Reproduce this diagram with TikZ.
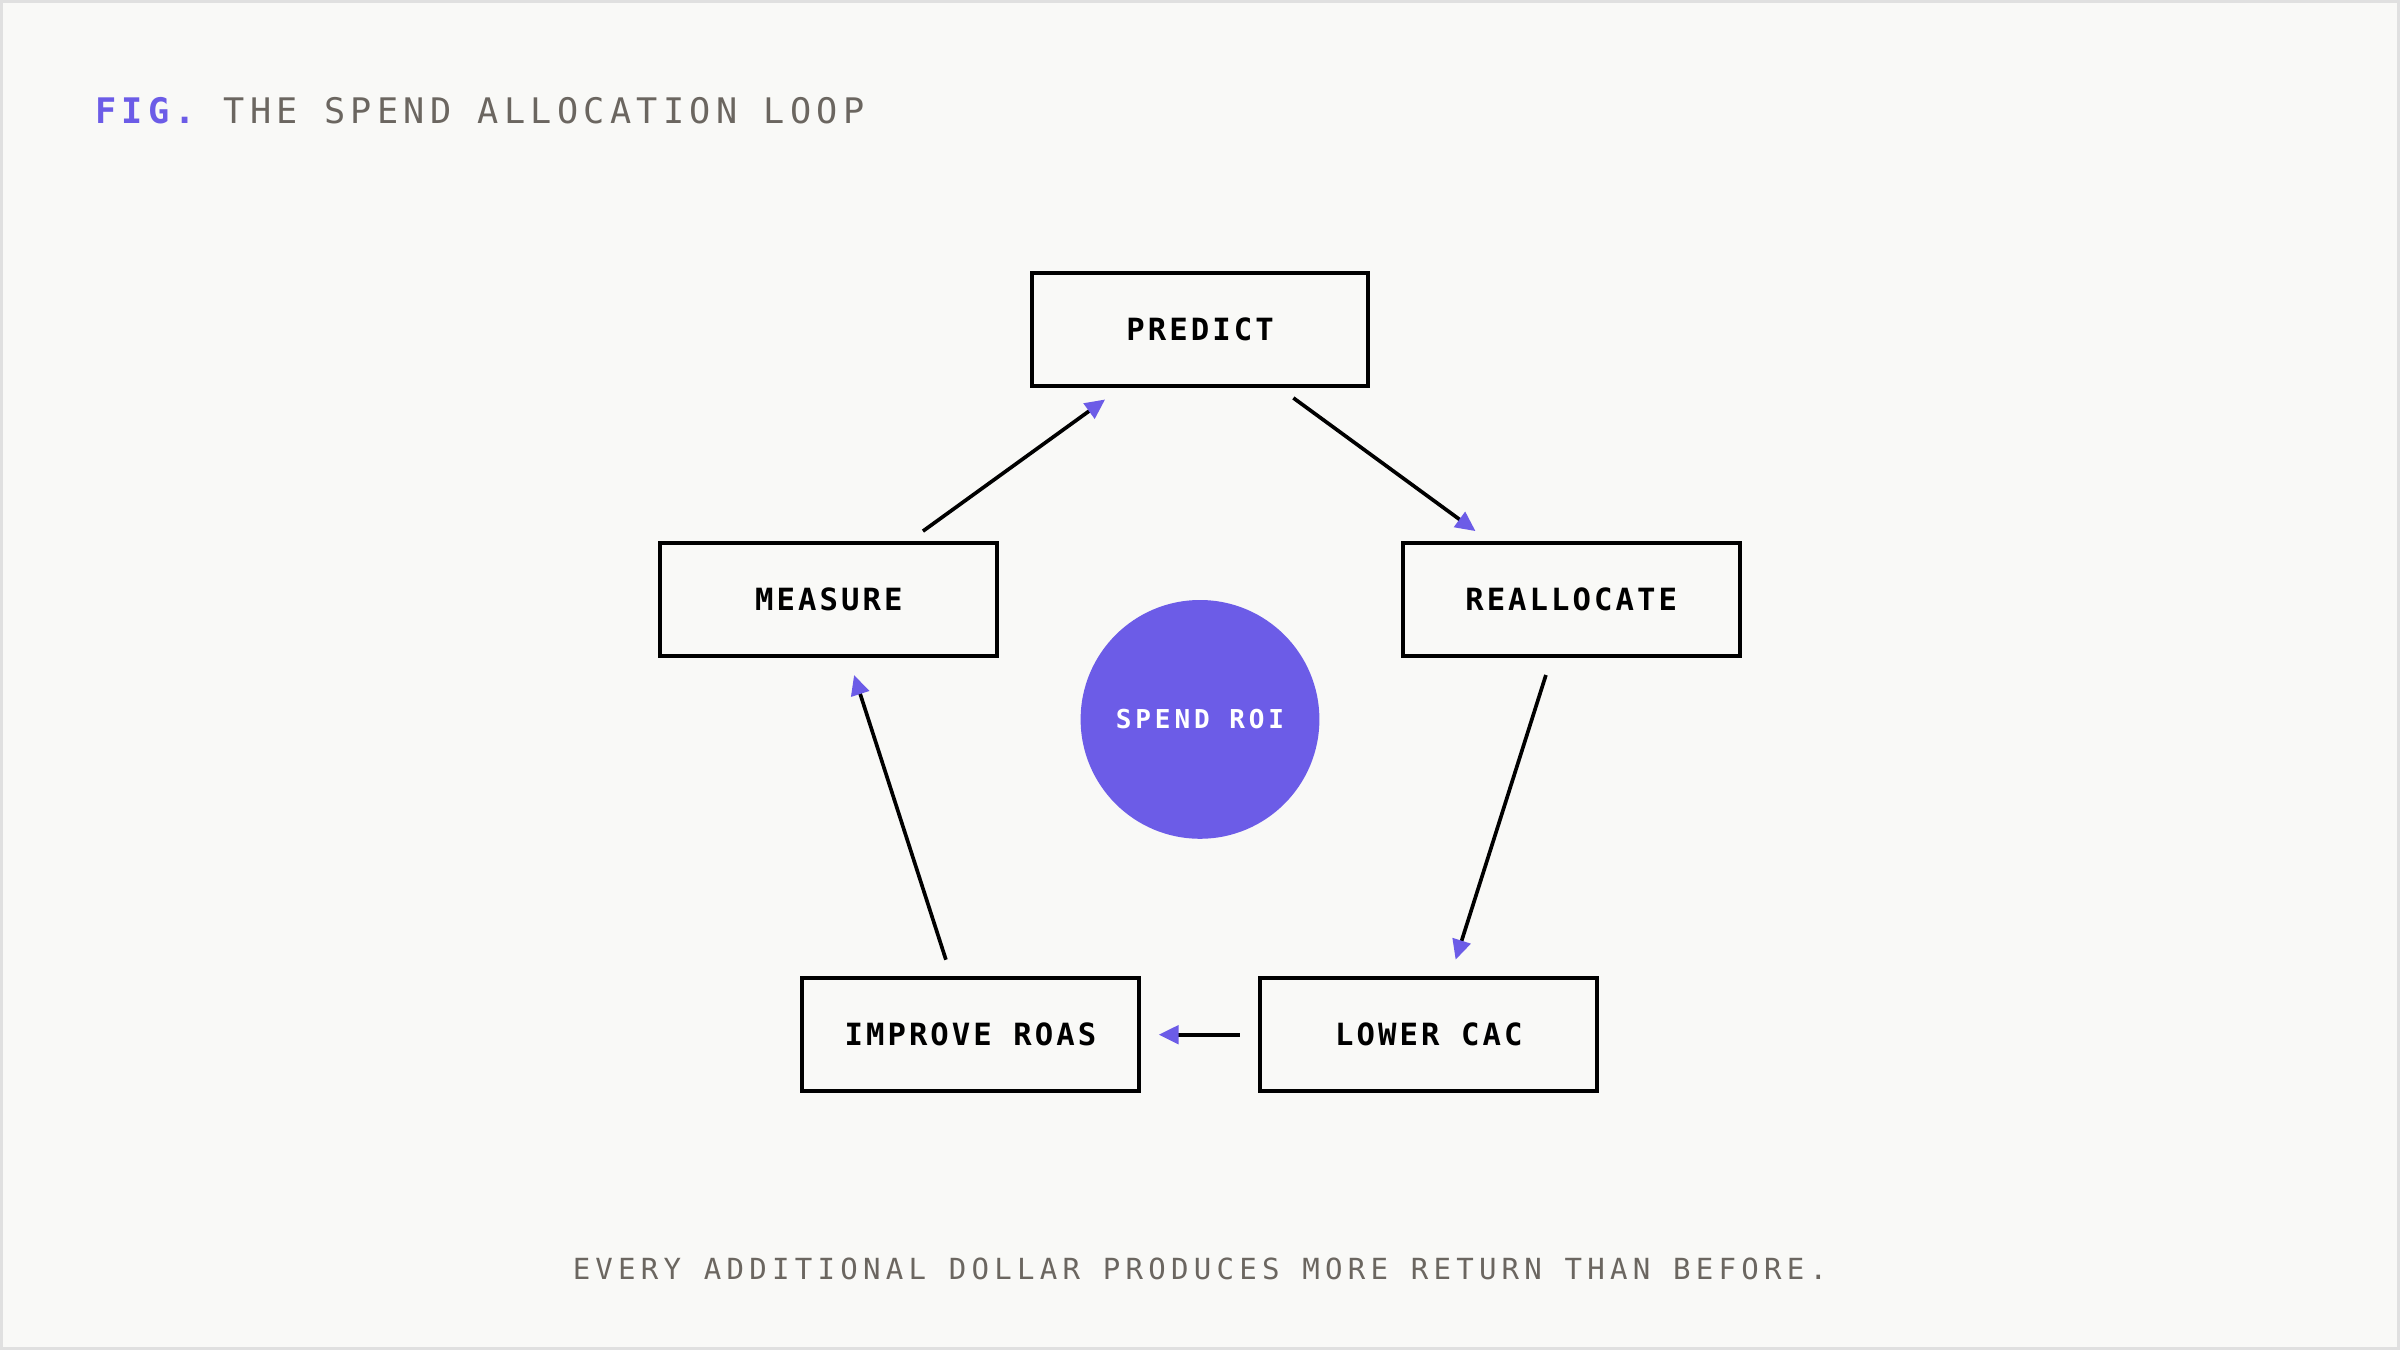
\documentclass[tikz,border=0pt]{standalone}
\usepackage{fontspec}
\setmonofont{DejaVu Sans Mono}
\newfontfamily\titlef[LetterSpace=15]{DejaVu Sans Mono}
\newfontfamily\boxf[LetterSpace=10]{DejaVu Sans Mono Bold}
\newfontfamily\footf[LetterSpace=18]{DejaVu Sans Mono}
\newfontfamily\circf[LetterSpace=15]{DejaVu Sans Mono Bold}
\usetikzlibrary{arrows.meta}
\definecolor{bg}{HTML}{F9F9F7}
\definecolor{purp}{HTML}{6C5CE7}
\definecolor{gry}{HTML}{6B6660}
\begin{document}
\begin{tikzpicture}[x=1pt,y=-1pt,
  stepbox/.style={draw=black,line width=2.6pt,fill=bg,minimum width=220pt,minimum height=74pt,inner sep=0pt,font=\boxf\fontsize{20}{24}\selectfont},
  flow/.style={line width=2.4pt,draw=black,-{Triangle[length=13pt,width=12pt,color=purp,fill=purp]}}]
\fill[bg] (0,0) rectangle (1568,882);
\draw[line width=2pt,draw=black!12] (1,1) rectangle (1567,881);
\node[anchor=west,inner sep=0pt,text=purp,font=\titlef\bfseries\fontsize{23}{28}\selectfont] (fig) at (62,72) {FIG.};
\node[anchor=west,inner sep=0pt,text=gry,font=\titlef\fontsize{23}{28}\selectfont] (title) at (146,72) {THE SPEND ALLOCATION LOOP};
\node[stepbox] (pred) at (784,215.5) {PREDICT};
\node[stepbox] (meas) at (541.5,391.5) {MEASURE};
\node[stepbox] (real) at (1026.5,391.5) {REALLOCATE};
\node[stepbox] (impr) at (634,676) {IMPROVE ROAS};
\node[stepbox] (lowc) at (933.5,676) {LOWER CAC};
\node[circle,fill=purp,minimum size=156pt,inner sep=0pt,text=white,font=\circf\fontsize{17}{20}\selectfont] (roi) at (784,470) {SPEND ROI};
\coordinate (a1) at (603,347); \coordinate (b1) at (722,261);
\coordinate (a2) at (845,260); \coordinate (b2) at (964,347);
\coordinate (a3) at (1010,441); \coordinate (b3) at (951,627);
\coordinate (a4) at (810,676); \coordinate (b4) at (757,676);
\coordinate (a5) at (618,627); \coordinate (b5) at (558,441);
\draw[flow] (a1) -- (b1);
\draw[flow] (a2) -- (b2);
\draw[flow] (a3) -- (b3);
\draw[flow] (a4) -- (b4);
\draw[flow] (a5) -- (b5);
\node[inner sep=0pt,text=gry,font=\footf\fontsize{19}{23}\selectfont] (foot) at (784,829) {EVERY ADDITIONAL DOLLAR PRODUCES MORE RETURN THAN BEFORE.};
\end{tikzpicture}
\end{document}
